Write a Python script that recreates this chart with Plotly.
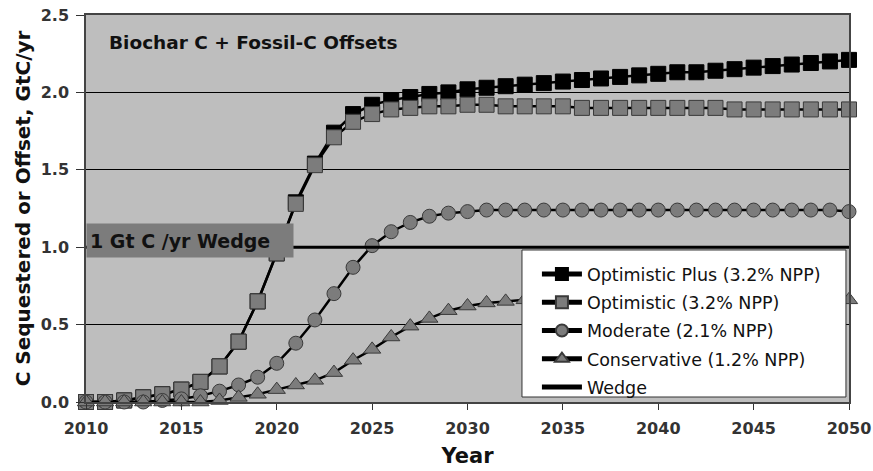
import plotly.graph_objects as go

years = list(range(2010, 2051))

optimistic_plus = [0.00, 0.00, 0.01, 0.03, 0.05, 0.08, 0.13, 0.23, 0.39, 0.65, 0.96,
                   1.29, 1.54, 1.74, 1.86, 1.92, 1.95, 1.97, 1.99, 2.00, 2.02,
                   2.03, 2.04, 2.05, 2.06, 2.07, 2.08, 2.09, 2.10, 2.11, 2.12,
                   2.13, 2.13, 2.14, 2.15, 2.16, 2.17, 2.18, 2.19, 2.20, 2.21]
optimistic = [0.00, 0.00, 0.01, 0.03, 0.05, 0.08, 0.13, 0.23, 0.39, 0.65, 0.96,
              1.28, 1.53, 1.71, 1.81, 1.86, 1.89, 1.90, 1.91, 1.91, 1.92,
              1.92, 1.91, 1.91, 1.91, 1.91, 1.90, 1.90, 1.90, 1.90, 1.90,
              1.90, 1.90, 1.90, 1.89, 1.89, 1.89, 1.89, 1.89, 1.89, 1.89]
moderate = [0.00, 0.00, 0.00, 0.00, 0.01, 0.02, 0.04, 0.07, 0.11, 0.16, 0.25,
            0.38, 0.53, 0.70, 0.87, 1.01, 1.10, 1.16, 1.20, 1.22, 1.23,
            1.24, 1.24, 1.24, 1.24, 1.24, 1.24, 1.24, 1.24, 1.24, 1.24,
            1.24, 1.24, 1.24, 1.24, 1.24, 1.24, 1.24, 1.24, 1.24, 1.23]
conservative = [0.00, 0.00, 0.00, 0.00, 0.00, 0.00, 0.00, 0.01, 0.03, 0.05, 0.08,
                0.11, 0.14, 0.19, 0.27, 0.34, 0.42, 0.49, 0.54, 0.59, 0.62,
                0.64, 0.65, 0.66, 0.66, 0.66, 0.66, 0.66, 0.66, 0.66, 0.66,
                0.66, 0.66, 0.66, 0.66, 0.66, 0.66, 0.66, 0.66, 0.66, 0.66]
wedge_years = [2010, 2050]
wedge_values = [1.0, 1.0]

series_names = ["Optimistic Plus (3.2% NPP)", "Optimistic (3.2% NPP)",
                "Moderate (2.1% NPP)", "Conservative (1.2% NPP)", "Wedge"]
x_ticks = [2010, 2015, 2020, 2025, 2030, 2035, 2040, 2045, 2050]
y_ticks = [0.0, 0.5, 1.0, 1.5, 2.0, 2.5]

GRAY = "#7c7c7c"
EDGE = "#3a3a3a"

fig = go.Figure()
specs = [
    (optimistic_plus, "square", 15, "black", "black"),
    (optimistic, "square", 15, GRAY, EDGE),
    (moderate, "circle", 14, GRAY, EDGE),
    (conservative, "triangle-up", 15, GRAY, EDGE),
]
for i, (vals, sym, sz, fill, edge) in enumerate(specs):
    fig.add_trace(go.Scatter(
        x=years, y=vals, mode="lines+markers", name=series_names[i],
        legendgroup=f"g{i}", cliponaxis=False,
        line=dict(color="black", width=2.5),
        marker=dict(symbol=sym, size=sz, color=fill, line=dict(color=edge, width=1)),
    ))
fig.add_trace(go.Scatter(
    x=wedge_years, y=wedge_values, mode="lines", name=series_names[4],
    legendgroup="g4", line=dict(color="black", width=3),
))

BOLD = dict(family="DejaVu Sans", weight="bold")

fig.update_layout(
    width=873, height=471,
    margin=dict(l=86, r=24, t=15, b=69, autoexpand=False),
    paper_bgcolor="white", plot_bgcolor="#bebebe",
    font=dict(family="DejaVu Sans", color="#222"),
    legend=dict(
        x=0.591, y=0.377, xanchor="left", yanchor="top",
        bgcolor="rgba(0,0,0,0)", borderwidth=0,
        font=dict(family="DejaVu Sans", size=17.5, color="#111"),
        traceorder="grouped", tracegroupgap=2.5,
        itemsizing="constant", itemwidth=40,
    ),
    xaxis=dict(
        automargin=False,
        range=[2010, 2050], tickvals=x_ticks, ticks="outside", ticklen=6,
        tickcolor="#333", showgrid=False, zeroline=False,
        showline=True, linecolor="#444", linewidth=1.5, mirror=True,
        tickfont=dict(size=16, color="#333", **BOLD), ticklabelstandoff=5,
        title=dict(text="Year", font=dict(size=21, color="#111", **BOLD), standoff=11),
    ),
    yaxis=dict(
        automargin=False,
        range=[0, 2.5], tickvals=y_ticks, tickformat=".1f", ticks="outside",
        ticklen=8, tickcolor="#333", showgrid=True, gridcolor="black", gridwidth=1.2,
        zeroline=False, showline=True, linecolor="#444", linewidth=1.5, mirror=True,
        tickfont=dict(size=16, color="#333", **BOLD), ticklabelstandoff=4,
        title=dict(text="C Sequestered or Offset, GtC/yr",
                   font=dict(size=20, color="#111", **BOLD), standoff=5),
    ),
    shapes=[dict(
        type="rect", xref="paper", yref="paper", layer="above",
        x0=0.5714, x1=0.996, y0=0.0129, y1=0.3928,
        fillcolor="white", line=dict(color="#333", width=1),
    )],
    annotations=[
        dict(text="Biochar C + Fossil-C Offsets", xref="paper", yref="paper",
             x=0.027, y=0.930, xanchor="left", yanchor="middle", showarrow=False,
             font=dict(size=18.5, color="#111", **BOLD)),
        dict(text="1 Gt C /yr Wedge", xref="x", yref="y",
             x=2010, y=1.043, xanchor="left", yanchor="middle", showarrow=False,
             width=200, height=27, borderpad=3, align="left",
             bgcolor="#7c7c7c", font=dict(size=19, color="#111", **BOLD)),
    ],
)

# remove the browser's default 8px body margin so the figure fills the window exactly
fig.write_html("out.html",
               config={"displayModeBar": False},
               post_script="document.body.style.margin='0';document.body.style.overflow='hidden';")
